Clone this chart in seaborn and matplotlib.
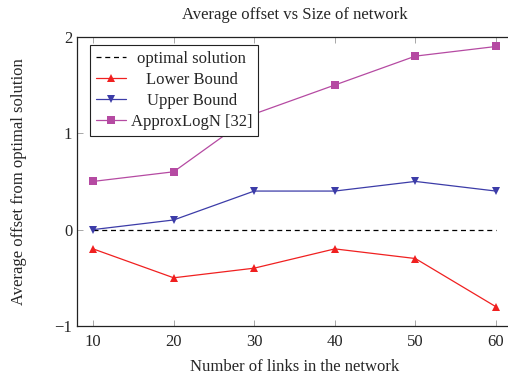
import numpy as np
import pandas as pd
import seaborn as sns
import matplotlib
matplotlib.use("Agg")
import matplotlib.pyplot as plt

# data
links = [10, 20, 30, 40, 50, 60]
optimal = [0, 0, 0, 0, 0, 0]
lower_bound = [-0.2, -0.5, -0.4, -0.2, -0.3, -0.8]
upper_bound = [0.0, 0.1, 0.4, 0.4, 0.5, 0.4]
approx_logn = [0.5, 0.6, 1.2, 1.5, 1.8, 1.9]

sns.set_theme(style="ticks")
plt.rcParams['font.family'] = ['Liberation Serif', 'DejaVu Serif']

fig = plt.figure(figsize=(5.08, 3.76), dpi=100)
ax = fig.add_axes([77/508, 0.133, 435/508, 0.769])

sns.lineplot(x=links, y=optimal, ax=ax, color='black', linestyle=(0, (4, 3)),
             linewidth=0.9, label='optimal solution')
sns.lineplot(x=links, y=lower_bound, ax=ax, color='#f02020', marker='^',
             markersize=6, markeredgewidth=0, linewidth=0.9, label='Lower Bound')
sns.lineplot(x=links, y=upper_bound, ax=ax, color='#3c3ca8', marker='v',
             markersize=6, markeredgewidth=0, linewidth=0.9, label='Upper Bound')
sns.lineplot(x=links, y=approx_logn, ax=ax, color='#b54aa2', marker='s',
             markersize=6, markeredgewidth=0, linewidth=0.9, label='ApproxLogN [32]')

ax.set_xlim(8, 62)
ax.set_ylim(-1, 2)
ax.set_xticks(links)
ax.set_yticks([-1, 0, 1, 2])
ax.set_yticklabels(['\u22121', '0', '1', '2'])
ax.tick_params(direction='in', length=4, width=0.6, color='#999999',
               labelsize=12, top=True, right=False)
ax.tick_params(axis='x', pad=6)
for s in ax.spines.values():
    s.set_linewidth(0.9)
    s.set_color('#222222')
ax.spines['right'].set_visible(False)

ax.set_title('Average offset vs Size of network', fontsize=12, pad=13)
ax.set_xlabel('Number of links in the network', fontsize=12, labelpad=6)
ax.set_ylabel('Average offset from optimal solution', fontsize=12, labelpad=20)

leg = ax.legend(loc='upper left', fontsize=12, frameon=True, fancybox=False,
                edgecolor='#222222', framealpha=1, borderpad=0.35,
                labelspacing=0.3, handlelength=1.8, handletextpad=0.3,
                borderaxespad=0, bbox_to_anchor=(0.03, 0.972))
leg.get_frame().set_linewidth(0.8)

# centre the legend labels like pgfplots does
fig.canvas.draw()
r = fig.canvas.get_renderer()
widths = [t.get_window_extent(r).width for t in leg.get_texts()]
wmax = max(widths)
for t, w in zip(leg.get_texts(), widths):
    t.set_position(((wmax - w) / 2, 0))

fig.savefig('out.png', dpi=100)
